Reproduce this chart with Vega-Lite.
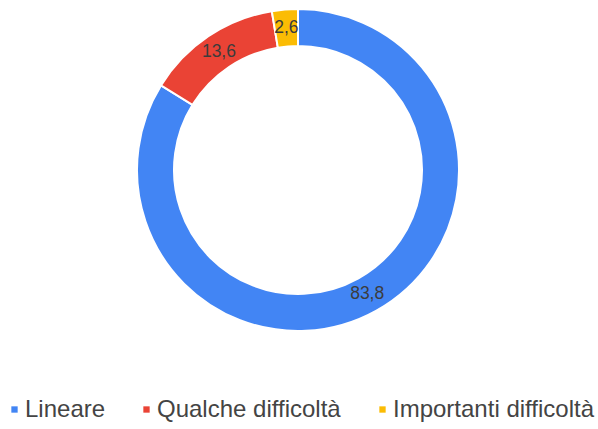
{
  "$schema": "https://vega.github.io/schema/vega-lite/v6.json",
  "width": 596,
  "height": 340,
  "padding": 0,
  "autosize": {"type": "pad"},
  "background": "white",
  "data": {"values": [
    {"cat": "Lineare", "value": 83.8, "label": "83,8", "i": 1},
    {"cat": "Qualche difficoltà", "value": 13.6, "label": "13,6", "i": 2},
    {"cat": "Importanti difficoltà", "value": 2.6, "label": "2,6", "i": 3}
  ]},
  "encoding": {
    "theta": {"field": "value", "type": "quantitative", "stack": true},
    "order": {"field": "i", "type": "quantitative"}
  },
  "layer": [
    {
      "mark": {"type": "arc", "outerRadius": 161, "innerRadius": 124, "stroke": "white", "strokeWidth": 2},
      "encoding": {
        "color": {
          "field": "cat", "type": "nominal",
          "scale": {"domain": ["Lineare", "Qualche difficoltà", "Importanti difficoltà"], "range": ["#4285F4", "#EA4335", "#FBBC04"]},
          "legend": {
            "title": null, "orient": "bottom", "direction": "horizontal",
            "offset": 55, "padding": 2.5,
            "symbolType": "square", "symbolSize": 40, "symbolStrokeWidth": 0,
            "labelFont": "Liberation Sans", "labelFontSize": 24, "labelColor": "#444444",
            "labelLimit": 300,
            "columnPadding": 29, "labelOffset": -1.5
          }
        }
      }
    },
    {
      "mark": {"type": "text", "radius": 142, "font": "Liberation Sans", "fontSize": 17.5, "color": "#3c3c3c"},
      "encoding": {"text": {"field": "label", "type": "nominal"}}
    }
  ],
  "config": {"view": {"stroke": null}}
}
